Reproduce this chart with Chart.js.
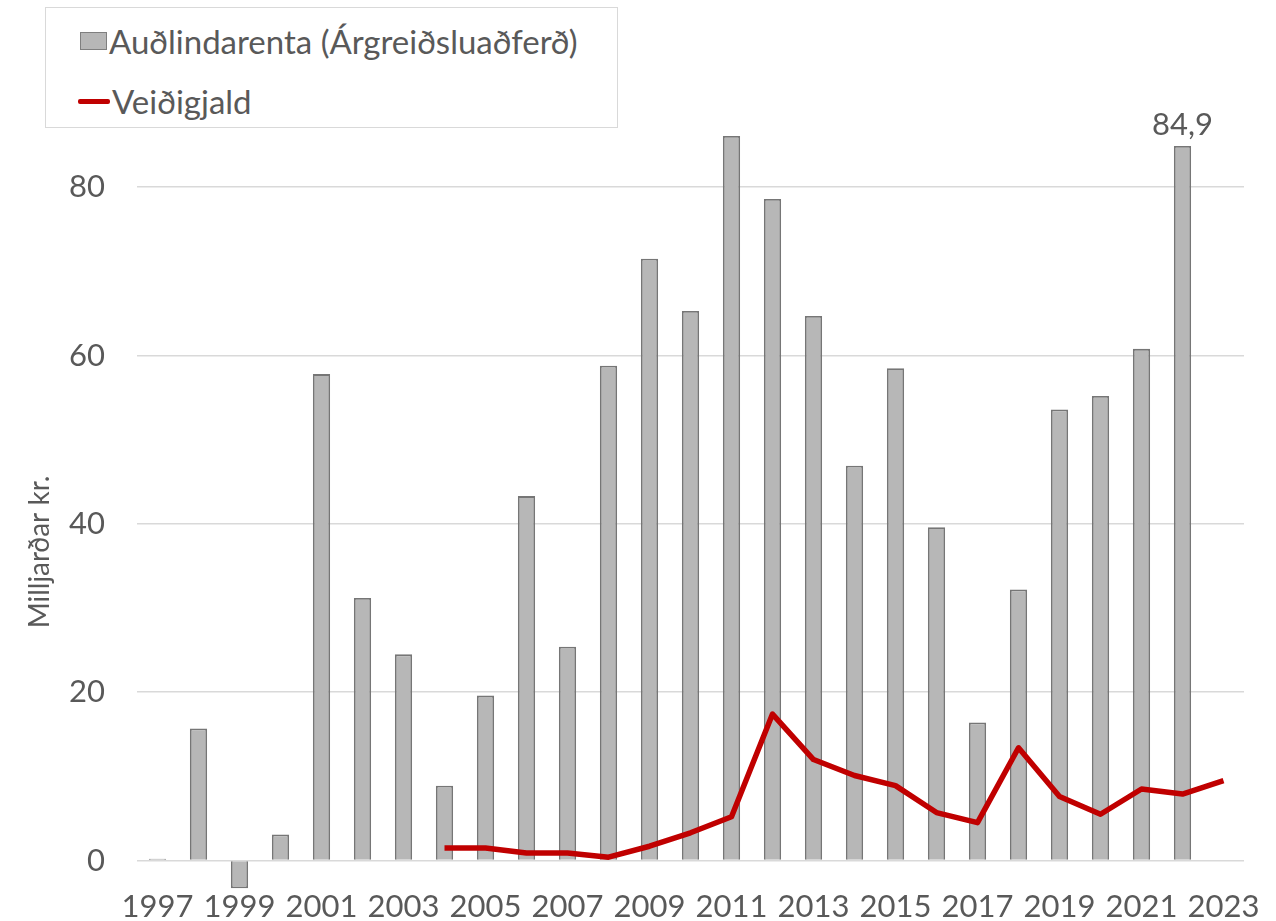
<!DOCTYPE html>
<html>
<head>
<meta charset="utf-8">
<script src="https://cdn.jsdelivr.net/npm/chart.js@4"></script>
<style>
  body { margin: 0; background: #fff; }
  #wrap { position: relative; width: 1276px; height: 921px; }
  #legend {
    position: absolute; left: 45px; top: 7px; width: 571px; height: 119px;
    border: 1px solid #d9d9d9; background: #fff;
    font-family: Lato, sans-serif; font-size: 33px; color: #595959;
  }
  .item { position: absolute; display: flex; align-items: center; white-space: nowrap; height: 40px; }
  .sw-bar { width: 27px; height: 18px; background: #b7b7b7; border: 1.5px solid #7f7f7f; box-sizing: border-box; margin-right: 2px; }
  .sw-line { width: 32px; height: 5px; background: #c00000; margin-right: 2px; border-radius: 2px; }
</style>
</head>
<body>
<div id="wrap">
  <canvas id="chart"></canvas>
  <div id="legend"></div>
</div>
<script>
const years = ['1997','1998','1999','2000','2001','2002','2003','2004','2005','2006','2007','2008','2009',
  '2010','2011','2012','2013','2014','2015','2016','2017','2018','2019','2020','2021','2022','2023'];
const audlindarenta = [0.2, 15.7, -3.3, 3.1, 57.8, 31.2, 24.5, 8.9, 19.6, 43.3, 25.4, 58.8, 71.5,
  65.3, 86.1, 78.6, 64.7, 46.9, 58.5, 39.6, 16.4, 32.2, 53.6, 55.2, 60.8, 84.9, null];
const veidigjald = [null, null, null, null, null, null, null, 1.5, 1.5, 0.9, 0.9, 0.4, 1.7,
  3.3, 5.2, 17.4, 12.0, 10.1, 8.9, 5.7, 4.5, 13.4, 7.6, 5.5, 8.5, 7.9, 9.5];
const yTicks = [0, 20, 40, 60, 80];
const labelledYears = ['2022'];
const seriesNames = ['Auðlindarenta (Árgreiðsluaðferð)', 'Veiðigjald'];
const yTitle = 'Milljarðar kr.';

const FONT = 'Lato, sans-serif';
const TXT = '#595959';

const $ = id => document.getElementById(id);

// legend drawn as html over the plot, like the excel original
$('legend').innerHTML = `
  <div class="item" style="top:13px;left:34px"><span class="sw-bar"></span>${seriesNames[0]}</div>
  <div class="item" style="top:73px;left:32px"><span class="sw-line"></span>${seriesNames[1]}</div>`;

const extras = {
  id: 'extras',
  afterDatasetsDraw(chart) {
    const ctx = chart.ctx;
    const meta = chart.getDatasetMeta(0);
    ctx.save();
    ctx.fillStyle = TXT;
    ctx.font = `31px ${FONT}`;
    ctx.textAlign = 'center';
    ctx.textBaseline = 'bottom';
    labelledYears.forEach(y => {
      const i = years.indexOf(y);
      const el = meta.data[i];
      ctx.fillText(audlindarenta[i].toFixed(1).replace('.', ','), el.x, el.y - 6);
    });
    // axis title
    ctx.translate(40, 552);
    ctx.rotate(-Math.PI / 2);
    ctx.textBaseline = 'middle';
    ctx.font = `28px ${FONT}`;
    ctx.fillText(yTitle, 0, 0);
    ctx.restore();
  }
};

new Chart($('chart'), {
  data: {
    labels: years,
    datasets: [
      {
        type: 'bar', label: seriesNames[0], data: audlindarenta, order: 1,
        backgroundColor: '#b7b7b7', borderColor: '#767676', borderWidth: 1.8,
        categoryPercentage: 1, barPercentage: 0.42
      },
      {
        type: 'line', label: seriesNames[1], data: veidigjald, order: 0,
        borderColor: '#c00000', borderWidth: 5.5, pointRadius: 0, tension: 0,
        borderJoinStyle: 'round'
      }
    ]
  },
  options: {
    responsive: true,
    maintainAspectRatio: false,
    animation: false,
    layout: { padding: { left: 0, right: 32, top: 61, bottom: 0 } },
    plugins: { legend: { display: false }, tooltip: { enabled: false } },
    scales: {
      x: {
        grid: { display: false, drawTicks: false },
        border: { display: false },
        ticks: {
          autoSkip: false, maxRotation: 0, padding: -2,
          color: TXT, font: { family: FONT, size: 31 },
          callback: (v, i) => i % 2 === 0 ? years[i] : ''
        },
        afterFit: s => { s.height = 31; s.paddingLeft = 0; s.paddingRight = 0; }
      },
      y: {
        min: -3.5, max: 95,
        grid: { color: '#d9d9d9', lineWidth: 1.5, drawTicks: false },
        border: { display: false },
        afterBuildTicks: s => { s.ticks = yTicks.map(v => ({ value: v })); },
        ticks: { padding: 32, color: TXT, font: { family: FONT, size: 31 } },
        afterFit: s => { s.width = 137; s.paddingTop = 0; s.paddingBottom = 0; }
      }
    }
  },
  plugins: [extras]
});
</script>
</body>
</html>
